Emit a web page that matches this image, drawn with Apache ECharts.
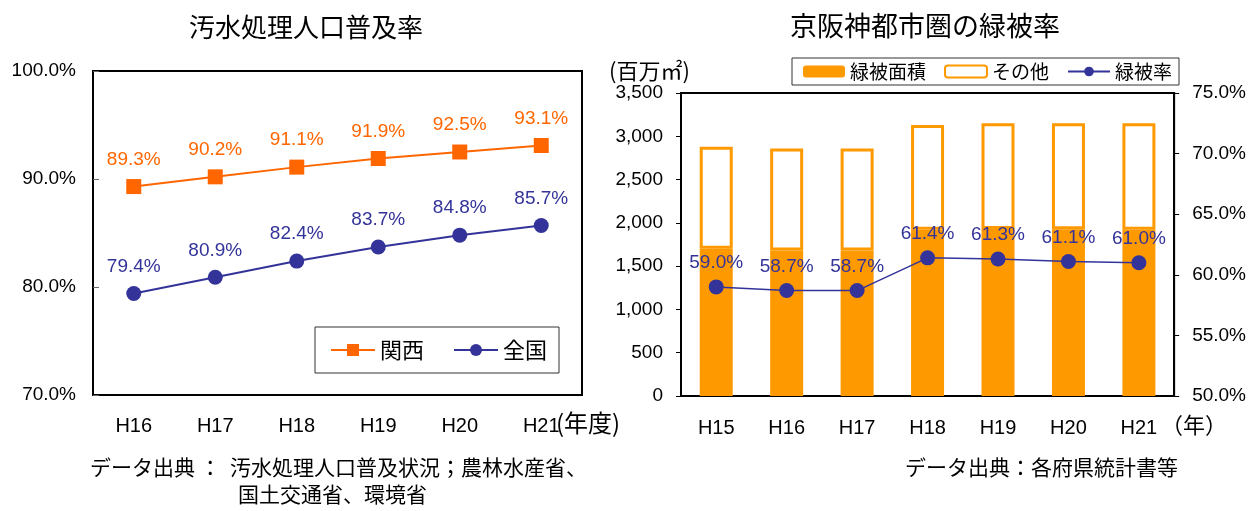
<!DOCTYPE html>
<html>
<head>
<meta charset="UTF-8">
<title>汚水処理人口普及率・京阪神都市圏の緑被率</title>
<script src="https://cdn.jsdelivr.net/npm/echarts@6/dist/echarts.min.js"></script>
<style>
  html, body { margin: 0; padding: 0; background: #fff; }
  #chartArea { width: 1249px; height: 511px; }
</style>
</head>
<body>
<div id="chartArea"></div>
<script>
// 左：汚水処理人口普及率
var sewerYears = ['H16', 'H17', 'H18', 'H19', 'H20', 'H21'];
var kansaiRate = [89.3, 90.2, 91.1, 91.9, 92.5, 93.1];
var zenkokuRate = [79.4, 80.9, 82.4, 83.7, 84.8, 85.7];

// 右：京阪神都市圏の緑被率
var greenYears = ['H15', 'H16', 'H17', 'H18', 'H19', 'H20', 'H21'];
var greenArea = [1700, 1680, 1680, 1920, 1930, 1925, 1920];   // 緑被面積（百万㎡）
var otherArea = [1180, 1180, 1180, 1210, 1220, 1225, 1230];   // その他
var greenRate = [59.0, 58.7, 58.7, 61.4, 61.3, 61.1, 61.0];   // 緑被率（%）

var numFont = '"Liberation Sans", Arial, sans-serif';
var jpFont = '"Noto Sans CJK JP", sans-serif';
var ORANGE = '#FF6600', NAVY = '#333399', BAR = '#FF9900';

function pct(v) { return v.toFixed(1) + '%'; }

var myChart = echarts.init(document.getElementById('chartArea'));

var option = {
  animation: false,
  backgroundColor: '#fff',
  grid: [
    { left: 93, top: 71, width: 489, height: 324, show: true, borderColor: '#000', borderWidth: 2 },
    { left: 681, top: 93, width: 495, height: 303, show: true, borderColor: '#000', borderWidth: 2 }
  ],
  xAxis: [
    {
      gridIndex: 0, type: 'category', data: sewerYears,
      axisLine: { lineStyle: { color: '#000', width: 2 } },
      axisTick: { inside: true, length: 6, lineStyle: { color: '#000' } },
      axisLabel: { color: '#000', fontFamily: numFont, fontSize: 20, margin: 21 }
    },
    {
      gridIndex: 1, type: 'category', data: greenYears,
      axisLine: { lineStyle: { color: '#000', width: 2 } },
      axisTick: { inside: true, length: 6, lineStyle: { color: '#000' } },
      axisLabel: { color: '#000', fontFamily: numFont, fontSize: 20, margin: 22 }
    }
  ],
  yAxis: [
    {
      gridIndex: 0, type: 'value', min: 70, max: 100, interval: 10,
      axisLine: { show: true, lineStyle: { color: '#000', width: 2 } },
      axisTick: { show: true, inside: true, length: 6, lineStyle: { color: '#666' } },
      splitLine: { show: false },
      axisLabel: { color: '#000', fontFamily: numFont, fontSize: 19, margin: 17, formatter: function (v) { return pct(v); } }
    },
    {
      gridIndex: 1, type: 'value', min: 0, max: 3500, interval: 500,
      axisLine: { show: true, lineStyle: { color: '#000', width: 2 } },
      axisTick: { show: true, length: 5, lineStyle: { color: '#000' } },
      splitLine: { show: false },
      axisLabel: {
        color: '#000', fontFamily: numFont, fontSize: 19, margin: 18,
        formatter: function (v) { return v.toLocaleString('en-US'); }
      }
    },
    {
      gridIndex: 1, type: 'value', position: 'right', min: 50, max: 75, interval: 5,
      axisLine: { show: true, lineStyle: { color: '#000', width: 2 } },
      axisTick: { show: true, length: 5, lineStyle: { color: '#000' } },
      splitLine: { show: false },
      axisLabel: { color: '#000', fontFamily: numFont, fontSize: 19, margin: 18, formatter: function (v) { return pct(v); } }
    }
  ],
  legend: [
    {
      data: ['関西', '全国'],
      left: 315, top: 327,
      orient: 'horizontal',
      itemWidth: 44, itemHeight: 15, itemGap: 29,
      padding: [12, 12, 12, 15],
      borderColor: '#333', borderWidth: 1,
      textStyle: { fontFamily: jpFont, fontSize: 22, color: '#000' }
    },
    {
      data: ['緑被面積', 'その他', '緑被率'],
      left: 792, top: 58,
      orient: 'horizontal',
      itemWidth: 42, itemHeight: 12, itemGap: 18,
      padding: [4, 7, 4, 11],
      borderColor: '#333', borderWidth: 1,
      textStyle: { fontFamily: jpFont, fontSize: 19, color: '#000' }
    }
  ],
  series: [
    {
      name: '関西', type: 'line', xAxisIndex: 0, yAxisIndex: 0,
      data: kansaiRate,
      symbol: 'rect', symbolSize: 15,
      itemStyle: { color: ORANGE },
      lineStyle: { color: ORANGE, width: 2 },
      label: { show: true, position: 'top', distance: 10, color: ORANGE, fontFamily: numFont, fontSize: 19, formatter: function (p) { return pct(p.value); } }
    },
    {
      name: '全国', type: 'line', xAxisIndex: 0, yAxisIndex: 0,
      data: zenkokuRate,
      symbol: 'circle', symbolSize: 15,
      itemStyle: { color: NAVY },
      lineStyle: { color: NAVY, width: 2 },
      label: { show: true, position: 'top', distance: 10, color: NAVY, fontFamily: numFont, fontSize: 19, formatter: function (p) { return pct(p.value); } }
    },
    {
      name: '緑被面積', type: 'bar', xAxisIndex: 1, yAxisIndex: 1, stack: 'area',
      data: greenArea, barWidth: 33,
      itemStyle: { color: BAR }
    },
    {
      name: 'その他', type: 'bar', xAxisIndex: 1, yAxisIndex: 1, stack: 'area',
      data: otherArea, barWidth: 33,
      itemStyle: { color: '#fff', borderColor: BAR, borderWidth: 3 }
    },
    {
      name: '緑被率', type: 'line', xAxisIndex: 1, yAxisIndex: 2,
      data: greenRate, z: 5,
      symbol: 'circle', symbolSize: 15,
      itemStyle: { color: NAVY },
      lineStyle: { color: NAVY, width: 1.5 },
      label: { show: true, position: 'top', distance: 7, color: NAVY, fontFamily: numFont, fontSize: 19, formatter: function (p) { return pct(p.value); } }
    }
  ],
  graphic: [
    { type: 'text', left: 189, top: 14, style: { text: '汚水処理人口普及率', font: '26px ' + jpFont, fill: '#000' } },
    { type: 'text', left: 790, top: 12, style: { text: '京阪神都市圏の緑被率', font: '27px ' + jpFont, fill: '#000' } },
    { type: 'text', left: 609, top: 60, style: { text: '(百万㎡)', font: '22px ' + jpFont, fill: '#000' } },
    { type: 'text', left: 556, top: 411, style: { text: '(年度)', font: '24px ' + jpFont, fill: '#000' } },
    { type: 'text', left: 1161, top: 414, style: { text: '（年）', font: '22px ' + jpFont, fill: '#000' } },
    { type: 'text', left: 90, top: 457, style: { text: 'データ出典 ：  汚水処理人口普及状況；農林水産省、', font: '21px ' + jpFont, fill: '#000' } },
    { type: 'text', left: 238, top: 484, style: { text: '国土交通省、環境省', font: '21px ' + jpFont, fill: '#000' } },
    { type: 'text', left: 905, top: 457, style: { text: 'データ出典：各府県統計書等', font: '21px ' + jpFont, fill: '#000' } }
  ]
};

myChart.setOption(option);
</script>
</body>
</html>
